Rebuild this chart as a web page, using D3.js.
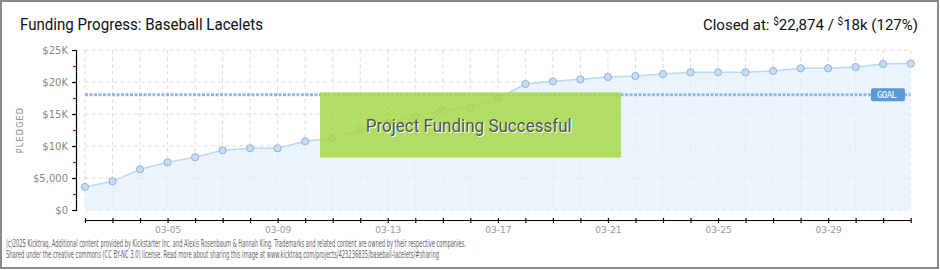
<!DOCTYPE html>
<html>
<head>
<meta charset="utf-8">
<script src="https://cdn.jsdelivr.net/npm/d3@7"></script>
<style>
  body { margin: 0; background: #fff; }
  svg { display: block; }
</style>
</head>
<body>
<div id="chart"></div>
<script>
// Chart data
var dates = ["03-02", "03-03", "03-04", "03-05", "03-06", "03-07", "03-08", "03-09", "03-10", "03-11",
    "03-12", "03-13", "03-14", "03-15", "03-16", "03-17", "03-18", "03-19", "03-20", "03-21",
    "03-22", "03-23", "03-24", "03-25", "03-26", "03-27", "03-28", "03-29", "03-30", "03-31", "04-01"];
var pledged = [3600, 4480, 6360, 7450, 8230, 9330, 9640, 9640, 10730, 11200,
    12500, 13600, 14580, 15620, 16040, 17450, 19690, 20100, 20420, 20780,
    20940, 21250, 21510, 21510, 21510, 21720, 22140, 22140, 22340, 22810, 22874];
var labelledDates = ["03-05", "03-09", "03-13", "03-17", "03-21", "03-25", "03-29"];
var yTicks = [0, 5000, 10000, 15000, 20000, 25000];
var yTickLabels = ["$0", "$5,000", "$10K", "$15K", "$20K", "$25K"];
var yMinorTicks = [2500, 7500, 12500, 17500, 22500];
var goal = 18000;

var svgWidth = 940;
var svgHeight = 270;

var svg = d3.select("#chart")
    .append("svg")
    .attr("width", svgWidth)
    .attr("height", svgHeight);

// Scales
var xScale = d3.scalePoint()
    .domain(dates)
    .range([85, 910.7]);

var yScale = d3.scaleLinear()
    .domain([0, 25000])
    .range([210, 50]);

// stripe pattern for the success banner
var defs = svg.append("defs");
var pat = defs.append("pattern")
    .attr("id", "stripes")
    .attr("width", 4)
    .attr("height", 4)
    .attr("patternUnits", "userSpaceOnUse")
    .attr("patternTransform", "rotate(45)");
pat.append("rect").attr("width", 4).attr("height", 4).attr("fill", "#a4d947");
pat.append("line").attr("x1", 0).attr("y1", 0).attr("x2", 0).attr("y2", 4)
    .attr("stroke", "#b0df5a").attr("stroke-width", 1.5);

// Outer frame
svg.append("rect")
    .attr("x", 1).attr("y", 1)
    .attr("width", 937).attr("height", 267)
    .attr("fill", "none")
    .attr("stroke", "#8a8a8a")
    .attr("stroke-width", 2);

// Gridlines
svg.append("g").selectAll("line")
    .data(yTicks)
    .enter()
    .append("line")
    .attr("x1", xScale(dates[0]))
    .attr("x2", xScale(dates[dates.length - 1]))
    .attr("y1", d => yScale(d))
    .attr("y2", d => yScale(d))
    .attr("stroke", "#dedede")
    .attr("stroke-dasharray", "4,3");

svg.append("g").selectAll("line")
    .data(dates)
    .enter()
    .append("line")
    .attr("x1", d => xScale(d))
    .attr("x2", d => xScale(d))
    .attr("y1", yScale(25000))
    .attr("y2", yScale(0))
    .attr("stroke", "#dedede")
    .attr("stroke-dasharray", "4,3");

// Area + line
var area = d3.area()
    .x((d, i) => xScale(dates[i]))
    .y0(yScale(0))
    .y1(d => yScale(d));

svg.append("path")
    .datum(pledged)
    .attr("d", area)
    .attr("fill", "#e3effc")
    .attr("fill-opacity", 0.7);

var line = d3.line()
    .x((d, i) => xScale(dates[i]))
    .y(d => yScale(d));

svg.append("path")
    .datum(pledged)
    .attr("d", line)
    .attr("fill", "none")
    .attr("stroke", "#bcd9f4")
    .attr("stroke-width", 1.5);

// Goal line
svg.append("line")
    .attr("x1", xScale(dates[0]))
    .attr("x2", xScale(dates[dates.length - 1]))
    .attr("y1", yScale(goal))
    .attr("y2", yScale(goal))
    .attr("stroke", "#8db8e6")
    .attr("stroke-width", 3)
    .attr("stroke-dasharray", "3,1.5");

// Points
svg.append("g").selectAll("circle")
    .data(pledged)
    .enter()
    .append("circle")
    .attr("cx", (d, i) => xScale(dates[i]))
    .attr("cy", d => yScale(d))
    .attr("r", 3.6)
    .attr("fill", "#c4dcf6")
    .attr("stroke", "#93b3d3")
    .attr("stroke-width", 1);

// Goal badge
var goalY = yScale(goal);
svg.append("rect")
    .attr("x", 871).attr("y", goalY - 6.5)
    .attr("width", 34).attr("height", 13)
    .attr("rx", 2)
    .attr("fill", "#5a9ad9");
svg.append("text")
    .attr("x", 877).attr("y", goalY + 3.5)
    .attr("font-family", "DejaVu Sans Mono, monospace")
    .attr("font-size", 9)
    .attr("fill", "#fff")
    .attr("textLength", 20)
    .text("GOAL");

// Success banner
svg.append("rect")
    .attr("x", 320).attr("y", 92.3)
    .attr("width", 301).attr("height", 65.5)
    .attr("fill", "url(#stripes)")
    .attr("opacity", 0.85);
svg.append("line")
    .attr("x1", 320).attr("x2", 621)
    .attr("y1", 157.5).attr("y2", 157.5)
    .attr("stroke", "#c9ea8e");
svg.append("text")
    .attr("x", 366.7).attr("y", 132.7)
    .attr("font-family", "Liberation Sans Narrow, Roboto, sans-serif")
    .attr("font-size", 18)
    .attr("fill", "#fff")
    .attr("textLength", 206)
    .attr("lengthAdjust", "spacingAndGlyphs")
    .text("Project Funding Successful");
svg.append("text")
    .attr("x", 365.7).attr("y", 131.7)
    .attr("font-family", "Liberation Sans Narrow, Roboto, sans-serif")
    .attr("font-size", 18)
    .attr("fill", "#555")
    .attr("textLength", 206)
    .attr("lengthAdjust", "spacingAndGlyphs")
    .text("Project Funding Successful");

// Y axis
var leftAxis = d3.axisLeft(yScale)
    .tickValues(yTicks)
    .tickSize(4)
    .tickPadding(4)
    .tickFormat((d, i) => yTickLabels[i]);

var yAxisG = svg.append("g")
    .attr("transform", "translate(76, 0)")
    .call(leftAxis);
yAxisG.select(".domain").attr("stroke", "#000").attr("stroke-width", 1.2);
yAxisG.selectAll(".tick line").attr("stroke", "#000").attr("stroke-width", 1.2);
yAxisG.selectAll(".tick text")
    .attr("font-family", "DejaVu Sans, sans-serif")
    .attr("font-size", 10)
    .attr("fill", "#888");

var minorAxis = d3.axisLeft(yScale)
    .tickValues(yMinorTicks)
    .tickSize(3)
    .tickFormat("");
var minorG = svg.append("g")
    .attr("transform", "translate(76, 0)")
    .call(minorAxis);
minorG.select(".domain").remove();
minorG.selectAll(".tick line").attr("stroke", "#e00").attr("stroke-width", 1.2);

// X axis
var bottomAxis = d3.axisBottom(xScale)
    .tickValues(dates)
    .tickSize(2)
    .tickPadding(4)
    .tickFormat(d => labelledDates.indexOf(d) >= 0 ? d : "");

var xAxisG = svg.append("g")
    .attr("transform", "translate(0, 220.5)")
    .call(bottomAxis);
xAxisG.select(".domain")
    .attr("d", `M${xScale(dates[0])},0H${xScale(dates[dates.length - 1])}`)
    .attr("stroke", "#000")
    .attr("stroke-width", 1.2);
xAxisG.selectAll(".tick line").attr("y1", -2.5).attr("y2", 2.5).attr("stroke", "#000").attr("stroke-width", 1.2);
xAxisG.selectAll(".tick text")
    .attr("font-family", "DejaVu Sans, sans-serif")
    .attr("font-size", 9)
    .attr("fill", "#999");

// Axis label
svg.append("text")
    .attr("transform", "translate(23, 130) rotate(-90)")
    .attr("text-anchor", "middle")
    .attr("font-family", "DejaVu Sans, sans-serif")
    .attr("font-size", 8)
    .attr("letter-spacing", 1.2)
    .attr("fill", "#888")
    .text("PLEDGED");

// Titles
svg.append("text")
    .attr("x", 20).attr("y", 30)
    .attr("font-family", "Liberation Sans Narrow, Roboto, sans-serif")
    .attr("font-size", 16)
    .attr("fill", "#111")
    .attr("textLength", 243)
    .attr("lengthAdjust", "spacingAndGlyphs")
    .text("Funding Progress: Baseball Lacelets");

var closedText = svg.append("text")
    .attr("x", 918).attr("y", 30)
    .attr("text-anchor", "end")
    .attr("font-family", "Liberation Sans Narrow, Roboto, sans-serif")
    .attr("font-size", 15)
    .attr("fill", "#111");
closedText.append("tspan").text("Closed at:  ");
closedText.append("tspan").attr("font-size", 10).attr("dy", -5).text("$");
closedText.append("tspan").attr("dy", 5).text("22,874 /  ");
closedText.append("tspan").attr("font-size", 10).attr("dy", -5).text("$");
closedText.append("tspan").attr("dy", 5).text("18k (127%)");

// Footer
var footer = [
    "(c)2025 Kicktraq. Additional content provided by Kickstarter Inc. and Alexis Rosenbaum & Hannah King. Trademarks and related content are owned by their respective companies.",
    "Shared under the creative commons (CC BY-NC 3.0) license. Read more about sharing this image at www.kicktraq.com/projects/423236835/baseball-lacelets/#sharing"
];
var footerWidths = [460, 433];
svg.append("g").selectAll("text")
    .data(footer)
    .enter()
    .append("text")
    .attr("x", 6)
    .attr("y", (d, i) => 246.5 + i * 11.5)
    .attr("font-family", "Liberation Sans Narrow, DejaVu Sans Condensed, sans-serif")
    .attr("font-size", 10)
    .attr("fill", "#666")
    .attr("textLength", (d, i) => footerWidths[i])
    .attr("lengthAdjust", "spacingAndGlyphs")
    .text(d => d);
</script>
</body>
</html>
